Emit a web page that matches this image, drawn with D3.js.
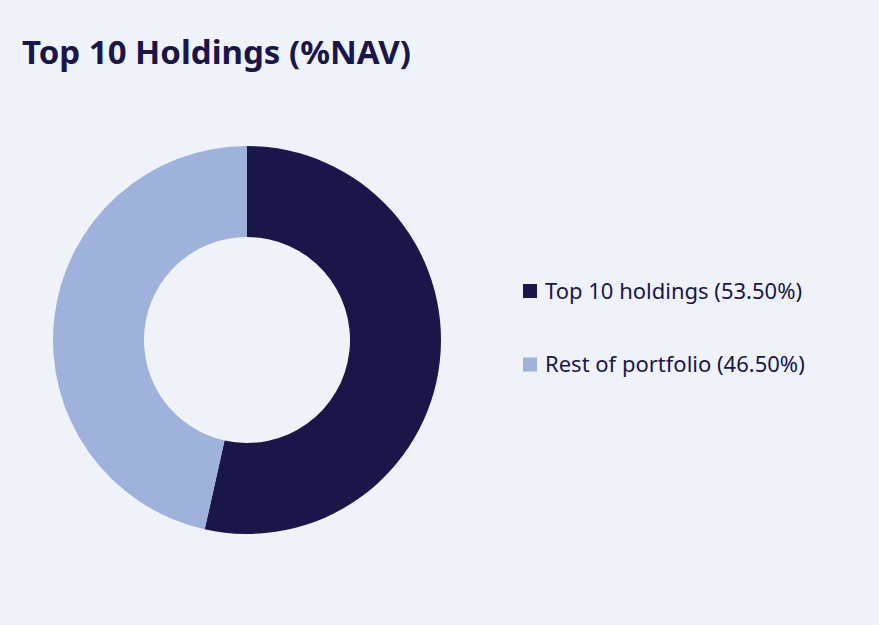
<!DOCTYPE html>
<html>
<head>
<meta charset="utf-8">
<script src="https://cdn.jsdelivr.net/npm/d3@7"></script>
<style>
    html, body { margin: 0; padding: 0; background: #eff3f9; }
    text { font-family: "Noto Sans", sans-serif; fill: #1a1649; }
</style>
</head>
<body>
<div id="chart"></div>
<script>
const labels = ["Top 10 holdings", "Rest of portfolio"];
const values = [53.50, 46.50];
const colors = ["#1a1649", "#9eb2db"];

const width = 879, height = 625;

let svg = d3.select("#chart")
    .append("svg")
        .attr("width", width)
        .attr("height", height)
        .style("background-color", "#eff3f9");

svg.append("text")
    .attr("x", 22)
    .attr("y", 64)
    .style("font-size", "33px")
    .style("font-weight", "bold")
    .text("Top 10 Holdings (%NAV)");

let pie = d3.pie().sort(null).value(d => d);
let arc = d3.arc().innerRadius(103).outerRadius(194);

let g = svg.append("g")
    .attr("transform", "translate(247,340)");

g.selectAll("path")
    .data(pie(values))
    .enter().append("path")
    .attr("d", arc)
    .attr("fill", (d, i) => colors[i]);

// legend
let y = d3.scalePoint().domain(labels).range([291, 364.5]);

let legend = svg.selectAll(".legend")
    .data(labels)
    .enter().append("g")
    .attr("class", "legend")
    .attr("transform", d => "translate(523," + y(d) + ")");

legend.append("rect")
    .attr("x", 0)
    .attr("y", -7)
    .attr("width", 14)
    .attr("height", 14)
    .attr("fill", (d, i) => colors[i]);

legend.append("text")
    .attr("x", 22)
    .attr("y", 7.5)
    .style("font-size", "22px")
    .text((d, i) => d + " (" + values[i].toFixed(2) + "%)");
</script>
</body>
</html>
